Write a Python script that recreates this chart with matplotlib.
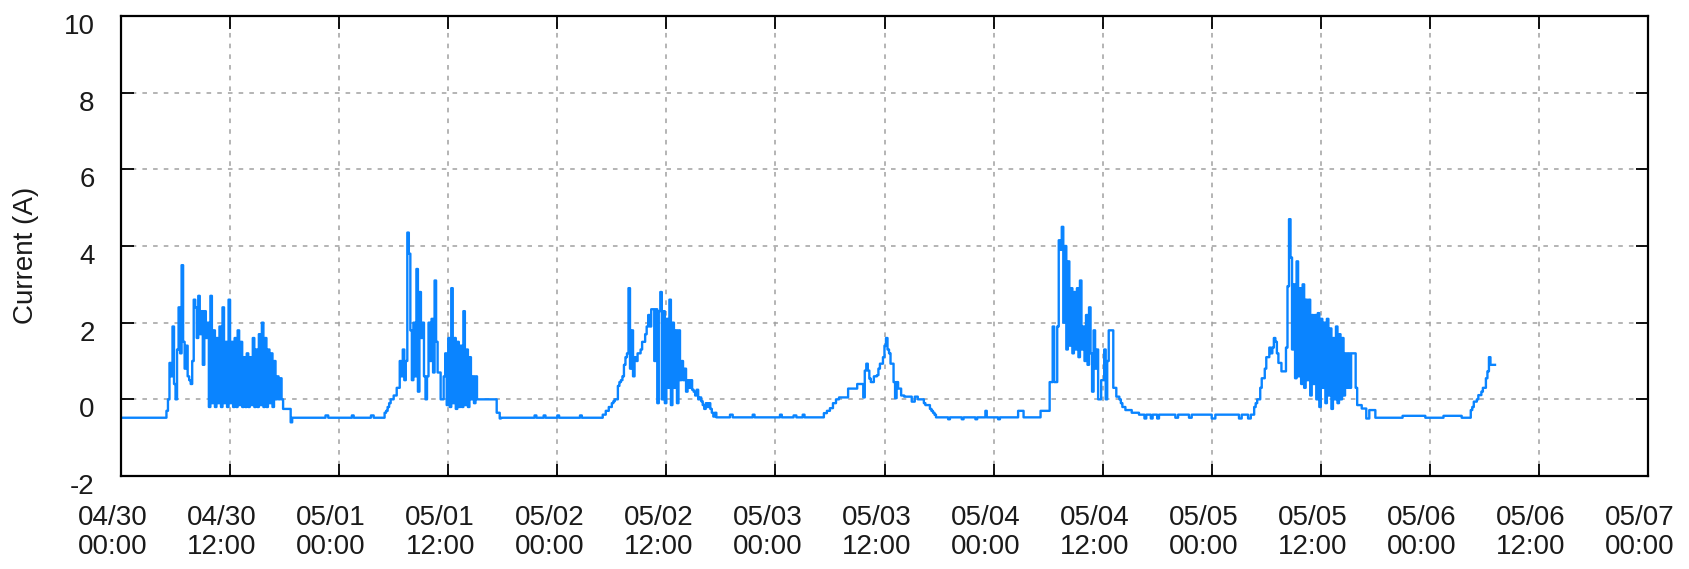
import numpy as np
import pandas as pd
import matplotlib
matplotlib.use("Agg")
import matplotlib.pyplot as plt
import matplotlib.dates as mdates
from matplotlib.transforms import ScaledTranslation


# =========================
# data (hours since 04/30 00:00 -> current in A)
# =========================
start = pd.Timestamp("2015-04-30 00:00")
step_h = 1 / 6  # active periods sampled every 10 min

# quiet night-time readings (sparse, step held)
quiet_h = [0.0, 18.9, 22.5, 22.8, 25.4, 25.6, 27.5, 27.8,
           41.8, 45.5, 45.7, 46.5, 46.7, 48.0, 48.2, 50.5, 50.7,
           65.6, 67.0, 67.3, 69.5, 69.7, 72.5, 72.7, 74.0, 74.3, 75.0, 75.2,
           89.8, 91.0, 91.2, 92.5, 92.7, 94.0, 94.2, 95.1, 95.25, 96.5, 96.7, 98.7, 99.3,
           111.2, 112.0, 112.6, 112.8, 113.3, 113.5, 114.0, 114.2, 116.0, 116.3,
           117.5, 117.8, 120.0, 120.4, 123.0, 123.3, 124.0, 124.3,
           138.2, 141.0, 143.5, 145.5, 147.5]
quiet_a = [-0.48, -0.48, -0.42, -0.48, -0.42, -0.48, -0.42, -0.48,
           -0.48, -0.42, -0.48, -0.42, -0.48, -0.42, -0.48, -0.42, -0.48,
           -0.47, -0.40, -0.47, -0.40, -0.47, -0.40, -0.47, -0.42, -0.47, -0.40, -0.47,
           -0.47, -0.52, -0.47, -0.52, -0.47, -0.52, -0.47, -0.30, -0.47, -0.52, -0.47, -0.30, -0.47,
           -0.35, -0.40, -0.50, -0.40, -0.50, -0.40, -0.50, -0.40, -0.48, -0.40,
           -0.48, -0.40, -0.50, -0.40, -0.50, -0.40, -0.50, -0.40,
           -0.48, -0.43, -0.48, -0.43, -0.48]

day1_h0 = 5.0
day1_a = [-0.3, 0.0, 0.95, 0.6, 1.9, 0.4,
          0.0, 1.3, 2.4, 1.2, 3.5, 1.5,
          0.8, 1.4, 0.6, 0.5, 0.4, 1.0,
          2.6, 2.4, 1.6, 2.7, 1.7, 2.3,
          0.9, 2.3, 1.6, 2.0, -0.2, 2.7,
          -0.1, 1.8, -0.2, 1.6, -0.1, 1.9,
          -0.2, 2.4, -0.1, 1.5, -0.2, 2.6,
          -0.1, 1.5, -0.2, 1.6, -0.2, 1.8,
          -0.15, 1.5, -0.2, 1.1, -0.2, 1.2,
          -0.2, 1.1, -0.15, 1.6, -0.2, 1.3,
          -0.2, 1.7, -0.15, 2.0, -0.2, 1.6,
          -0.2, 1.3, -0.1, 1.2, -0.2, 1.0,
          0.0, 0.6, 0.0, 0.55, 0.0, -0.25,
          -0.25, -0.25, -0.25, -0.25, -0.6, -0.48]

day2_h0 = 29.0
day2_a = [-0.35, -0.3, -0.2, -0.1, 0.0, 0.0,
          0.1, 0.1, 0.3, 0.3, 1.0, 0.6,
          1.3, 0.5, 1.0, 4.35, 3.8, 1.8,
          0.5, 2.0, 0.6, 3.4, 0.2, 2.8,
          1.6, 2.0, 0.6, 0.0, 0.6, 2.0,
          1.0, 2.1, 0.7, 3.1, 1.5, 0.7,
          0.7, 0.0, 0.0, 0.6, 1.2, -0.15,
          1.6, -0.2, 2.9, -0.1, 1.6, -0.25,
          1.5, -0.2, 1.4, -0.2, 2.3, -0.15,
          1.3, -0.2, 1.1, 0.0, 0.6, -0.1,
          0.6, 0.0, 0.0, 0.0, 0.0, 0.0,
          0.0, 0.0, 0.0, 0.0, 0.0, 0.0,
          0.0, 0.0, -0.35, -0.35, -0.5]

day3_h0 = 53.0
day3_a = [-0.4, -0.4, -0.3, -0.3, -0.2, -0.2,
          -0.1, -0.05, 0.0, 0.0, 0.35, 0.45,
          0.5, 0.6, 0.9, 1.1, 1.2, 2.9,
          0.8, 1.8, 0.6, 1.1, 1.0, 1.2,
          1.2, 1.3, 1.5, 1.5, 1.7, 1.9,
          2.2, 1.9, 2.35, 2.35, 1.0, 2.35,
          -0.1, 2.3, 2.8, 0.0, 2.3, -0.1,
          2.1, 0.3, 2.6, -0.15, 2.0, 0.3,
          1.8, -0.1, 1.8, 0.5, 1.0, 0.5,
          0.8, 0.2, 0.5, 0.3, 0.5, 0.25,
          0.2, 0.1, 0.25, 0.0, 0.05, -0.05,
          -0.15, -0.25, -0.1, -0.2, -0.1, -0.25,
          -0.35, -0.45, -0.35, -0.47]

day4_h0 = 77.33
day4_a = [-0.36, -0.36, -0.3, -0.3, -0.23, -0.23,
          -0.1, -0.1, 0.0, 0.0, 0.05, 0.05,
          0.05, 0.05, 0.05, 0.05, 0.28, 0.28,
          0.28, 0.28, 0.28, 0.28, 0.4, 0.4,
          0.4, 0.4, 0.05, 0.75, 0.93, 0.75,
          0.54, 0.45, 0.45, 0.6, 0.6, 0.63,
          0.8, 0.93, 0.93, 1.1, 1.4, 1.6,
          1.3, 1.2, 0.93, 0.93, 0.45, 0.03,
          0.45, 0.28, 0.28, 0.1, 0.1, 0.07,
          0.07, 0.07, 0.07, 0.07, -0.06, -0.06,
          0.07, 0.07, 0.0, 0.0, 0.0, 0.0,
          -0.1, -0.15, -0.15, -0.15, -0.25, -0.3,
          -0.35, -0.4, -0.47]

day5_h0 = 101.17
day5_a = [-0.3, -0.3, -0.3, -0.3, -0.3, -0.3,
          0.45, 0.45, 1.9, 0.45, 0.45, 1.9,
          4.15, 3.9, 4.5, 2.0, 4.0, 1.3,
          3.6, 1.4, 2.9, 1.2, 2.8, 1.3,
          2.9, 1.1, 3.1, 1.3, 1.9, 1.0,
          2.2, 0.9, 2.4, 1.2, 0.2, 1.8,
          0.8, 1.3, 0.0, 0.0, 0.5, 0.5,
          1.3, 0.0, 1.0, 1.8, 1.8, 1.8,
          0.3, 0.3, 0.07, 0.07, 0.0, -0.1,
          -0.2, -0.2, -0.28, -0.28, -0.28, -0.28]

day6_h0 = 124.67
day6_a = [-0.2, -0.1, 0.0, 0.0, 0.3, 0.55,
          0.55, 0.8, 1.1, 1.1, 1.35, 1.2,
          1.35, 1.6, 1.5, 1.2, 0.95, 0.95,
          0.73, 0.73, 0.73, 1.35, 2.95, 4.7,
          3.7, 1.3, 3.0, 0.55, 3.6, 0.6,
          2.9, 0.4, 3.0, 0.3, 2.6, 0.5,
          2.6, 0.1, 2.2, 0.4, 2.2, 0.0,
          2.25, -0.2, 2.1, 0.3, 2.0, -0.1,
          2.1, 0.1, 1.85, -0.25, 1.6, 0.0,
          1.9, -0.1, 1.7, 0.0, 1.6, 0.1,
          1.2, 0.3, 1.2, 0.3, 1.2, 1.2,
          1.2, 0.3, -0.15, -0.15, -0.15, -0.24,
          -0.24, -0.24, -0.5, -0.5, -0.28, -0.28,
          -0.28, -0.28, -0.48]

day7_h0 = 148.5
day7_a = [-0.28, -0.2, -0.06, -0.06, 0.0, 0.11,
          0.11, 0.2, 0.3, 0.3, 0.55, 0.73,
          1.1, 0.9, 0.9, 0.9, 0.9]


# =========================
# build series
# =========================
active = [(day1_h0, day1_a), (day2_h0, day2_a), (day3_h0, day3_a),
          (day4_h0, day4_a), (day5_h0, day5_a), (day6_h0, day6_a),
          (day7_h0, day7_a)]

hours = list(quiet_h)
amps = list(quiet_a)
for h0, vals in active:
    hours += list(h0 + np.arange(len(vals)) * step_h)
    amps += list(vals)

df = pd.DataFrame({"h": hours, "a": amps}).sort_values("h")
df["t"] = start + pd.to_timedelta(df["h"], unit="h")


# =========================
# plot
# =========================
plt.rcParams["font.family"] = ["Liberation Sans", "DejaVu Sans"]
plt.rcParams["axes.unicode_minus"] = False
txt = "#1a1a1a"

fig = plt.figure(figsize=(16.89, 5.69), dpi=100)
ax = fig.add_axes([121 / 1689, 1 - 476 / 569, 1527 / 1689, 460 / 569])

ax.plot(df["t"], df["a"], drawstyle="steps-post", color="#0a84ff", linewidth=1.7)

ax.set_xlim(start, start + pd.Timedelta(days=7))
ax.set_ylim(-2, 10)
ax.set_yticks(np.arange(-2, 11, 2))
ax.xaxis.set_major_locator(mdates.HourLocator(byhour=[0, 12]))
ax.xaxis.set_major_formatter(mdates.DateFormatter("%m/%d\n%H:%M"))

ax.grid(True, color="#a0a0a0", linestyle=(0, (3, 4)), linewidth=1.1)
for s in ax.spines.values():
    s.set_linewidth(1.6)
    s.set_color("black")

ax.tick_params(direction="in", length=9, width=1.3, top=True, right=True,
               labelsize=20, colors="black", labelcolor=txt)
ax.tick_params(axis="y", pad=19)
ax.tick_params(axis="x", pad=21)

# labels sit a bit off their ticks in the original
for lab in ax.get_yticklabels():
    lab.set_transform(lab.get_transform() + ScaledTranslation(0, -0.08, fig.dpi_scale_trans))
for lab in ax.get_xticklabels():
    lab.set_transform(lab.get_transform() + ScaledTranslation(-0.08, 0, fig.dpi_scale_trans))
    lab.set_linespacing(1.15)

fig.text(26 / 1689, 1 - 255 / 569, "Current (A)", rotation=90,
         ha="center", va="center", fontsize=20, color=txt)

fig.savefig("out.png", dpi=100)
